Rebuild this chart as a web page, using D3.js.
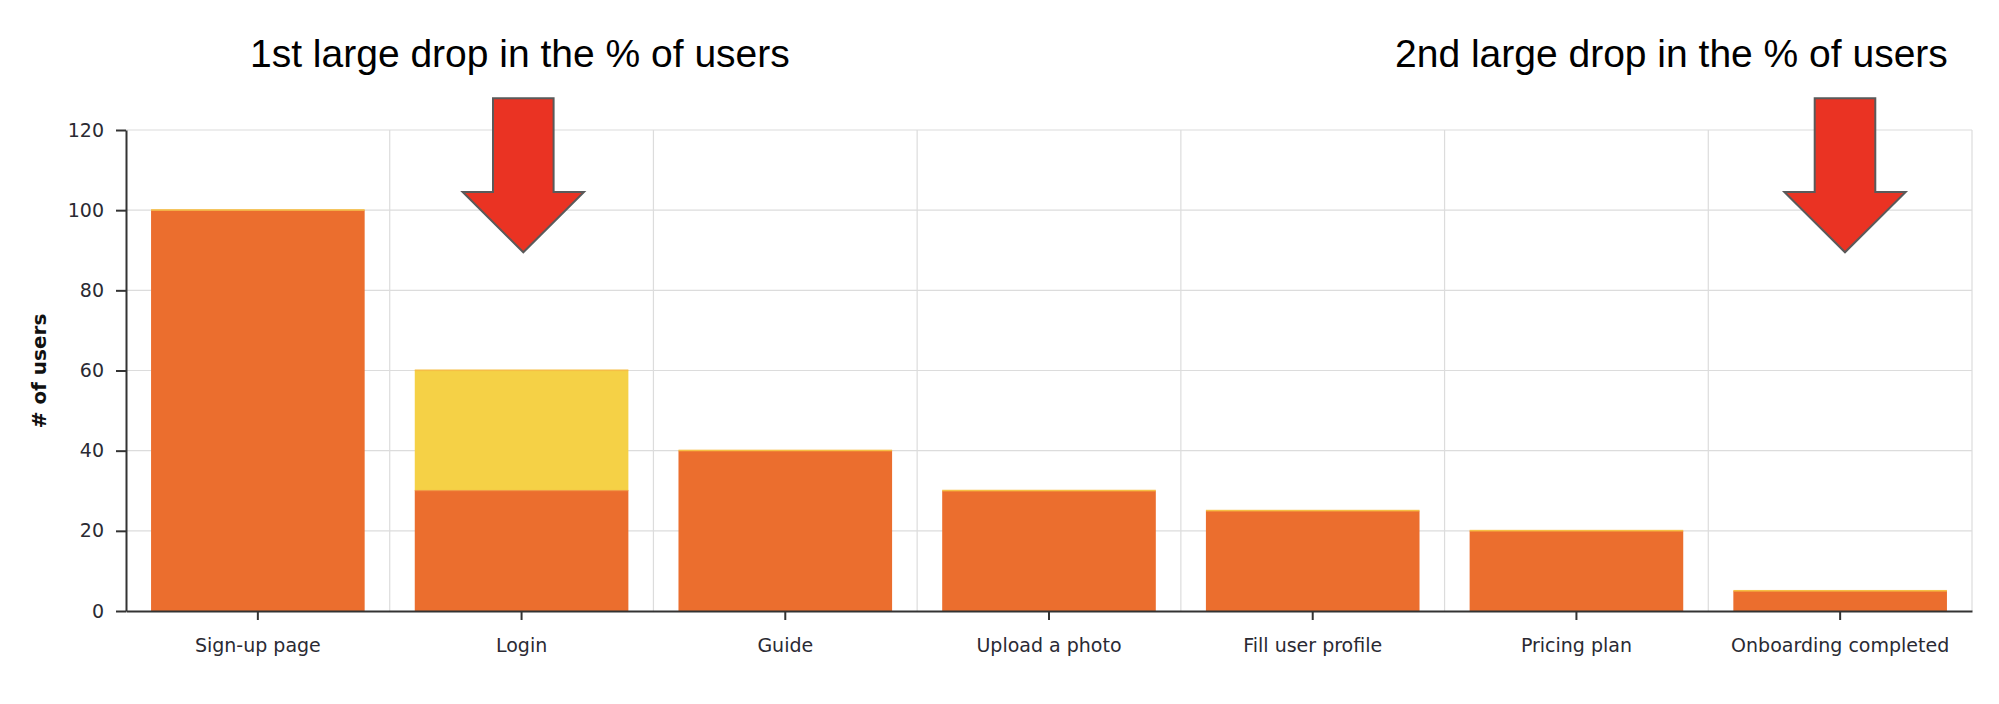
<!DOCTYPE html>
<html>
<head>
<meta charset="utf-8">
<script src="https://cdn.jsdelivr.net/npm/d3@7"></script>
<style>
  html, body { margin: 0; padding: 0; background: #fff; }
  svg { display: block; }
</style>
</head>
<body>
<svg id="chart" width="1999" height="704"></svg>
<script>
// ---- data ----
const categories = ["Sign-up page", "Login", "Guide", "Upload a photo", "Fill user profile", "Pricing plan", "Onboarding completed"];
const remainingUsers = [100, 30, 40, 30, 25, 20, 5];
const droppedUsers = [0, 30, 0, 0, 0, 0, 0];
const yTicks = [0, 20, 40, 60, 80, 100, 120];
const yAxisTitle = "# of users";
const annotationTexts = ["1st large drop in the % of users", "2nd large drop in the % of users"];
const annotationCategories = ["Login", "Onboarding completed"];

// ---- layout ----
const W = 1999, H = 704;
const m = { left: 126, right: 27, top: 130, bottom: 93 };
const plotL = m.left, plotR = W - m.right, plotT = m.top, plotB = H - m.bottom;

const svg = d3.select("#chart");

const x = d3.scaleBand().domain(categories).range([plotL, plotR])
  .paddingInner(0.19).paddingOuter(0.095);
const y = d3.scaleLinear().domain([0, 120]).range([plotB, plotT]);

// grid
const grid = svg.append("g");
grid.selectAll("line.h").data(yTicks.filter(d => d > 0)).join("line")
  .attr("x1", plotL).attr("x2", plotR)
  .attr("y1", d => y(d)).attr("y2", d => y(d))
  .attr("stroke", "#dcdcdc").attr("stroke-width", 1.2);
const step = x.step();
grid.selectAll("line.v").data(d3.range(1, categories.length + 1)).join("line")
  .attr("x1", i => plotL + i * step).attr("x2", i => plotL + i * step)
  .attr("y1", plotT).attr("y2", plotB)
  .attr("stroke", "#dcdcdc").attr("stroke-width", 1.2);

// bars
const data = categories.map((c, i) => ({ c, rem: remainingUsers[i], drop: droppedUsers[i] }));
const ORANGE = "#EB6E2E", YELLOW = "#F5D146", CAP = "#F6BE45";
svg.append("g").selectAll("rect").data(data).join("rect")
  .attr("x", d => x(d.c)).attr("width", x.bandwidth())
  .attr("y", d => y(d.rem)).attr("height", d => y(0) - y(d.rem))
  .attr("fill", ORANGE);
svg.append("g").selectAll("rect").data(data.filter(d => d.drop > 0)).join("rect")
  .attr("x", d => x(d.c)).attr("width", x.bandwidth())
  .attr("y", d => y(d.rem + d.drop)).attr("height", d => y(d.rem) - y(d.rem + d.drop))
  .attr("fill", YELLOW);
// thin light top edges of the segments
svg.append("g").selectAll("rect").data(data).join("rect")
  .attr("x", d => x(d.c)).attr("width", x.bandwidth())
  .attr("y", d => y(d.rem + d.drop) - 1).attr("height", 1.6)
  .attr("fill", CAP);
svg.append("g").selectAll("rect").data(data.filter(d => d.drop > 0)).join("rect")
  .attr("x", d => x(d.c)).attr("width", x.bandwidth())
  .attr("y", d => y(d.rem) - 0.8).attr("height", 1.2)
  .attr("fill", "#F09A45");

// axes
const axisFont = "'DejaVu Sans', Verdana, sans-serif";
const yAxis = svg.append("g").attr("transform", `translate(${plotL},0)`)
  .call(d3.axisLeft(y).tickValues(yTicks).tickSize(10).tickSizeOuter(0).tickPadding(12));
const xAxis = svg.append("g").attr("transform", `translate(0,${plotB})`)
  .call(d3.axisBottom(x).tickSize(9).tickSizeOuter(0).tickPadding(19));
[yAxis, xAxis].forEach(g => {
  g.select(".domain").attr("stroke", "#333").attr("stroke-width", 2);
  g.selectAll(".tick line").attr("stroke", "#333").attr("stroke-width", 2);
  g.selectAll(".tick text").attr("fill", "#2a2a33")
    .style("font-family", axisFont).style("font-size", "19px");
});

// y title
svg.append("text")
  .attr("transform", `translate(46,371) rotate(-90)`)
  .attr("text-anchor", "middle")
  .style("font-family", axisFont).style("font-size", "20px").style("font-weight", "bold")
  .attr("fill", "#111")
  .text(yAxisTitle);

// annotations
const annFont = "'Liberation Sans', Arial, Helvetica, sans-serif";
const annX = [250, 1395];
annotationTexts.forEach((t, i) => {
  svg.append("text").attr("x", annX[i]).attr("y", 66.5)
    .style("font-family", annFont).style("font-size", "39px").attr("fill", "#000")
    .text(t);
});
// arrows: centered on the band, slightly offset
const arrowOffsets = [0, 0];
const shaftW = 60.6, headW = 121.3, topY = 98.3, shoulderY = 192, tipY = 252.3;
annotationCategories.forEach((c, i) => {
  const cx = (i === 0 ? 523.3 : 1845);
  const p = [
    [cx - shaftW / 2, topY], [cx + shaftW / 2, topY], [cx + shaftW / 2, shoulderY],
    [cx + headW / 2, shoulderY], [cx, tipY], [cx - headW / 2, shoulderY],
    [cx - shaftW / 2, shoulderY]
  ];
  svg.append("path").attr("d", "M" + p.map(q => q.join(",")).join("L") + "Z")
    .attr("fill", "#EA3323").attr("stroke", "#5a5a5a").attr("stroke-width", 2)
    .attr("stroke-linejoin", "miter");
});
</script>
</body>
</html>
